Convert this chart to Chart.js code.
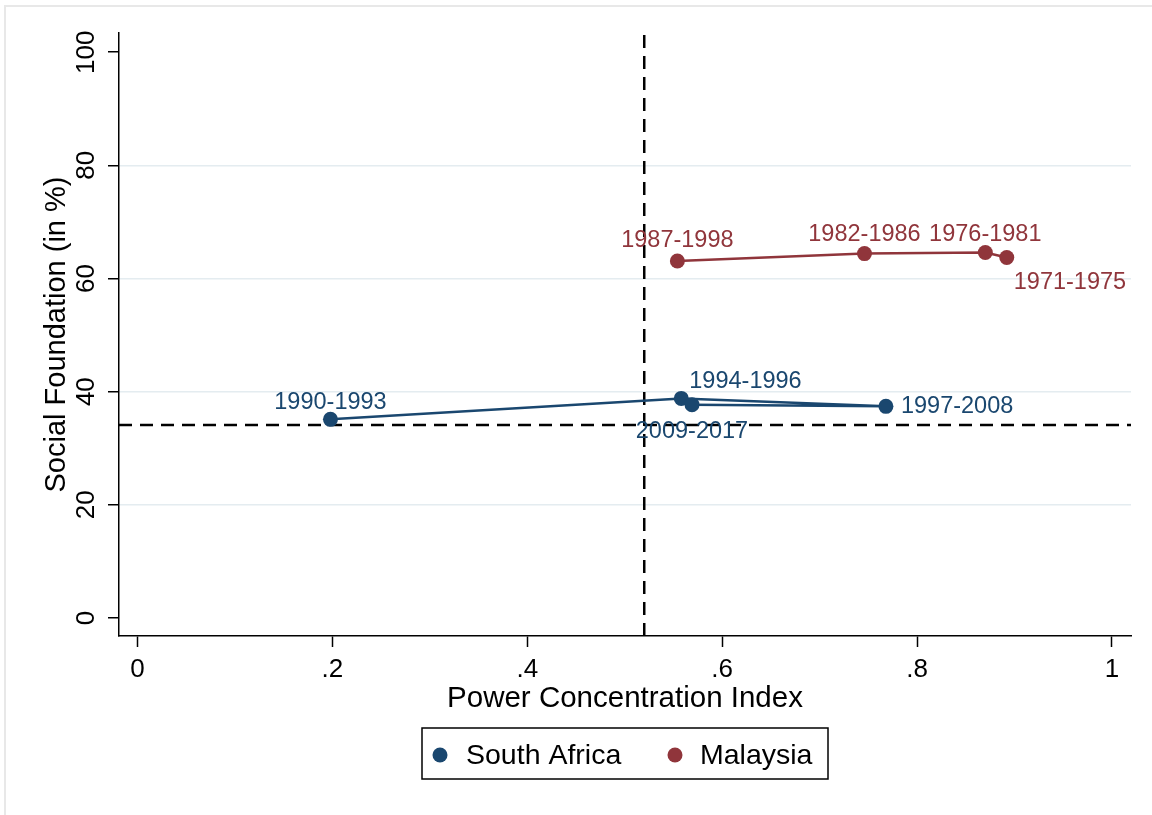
<!DOCTYPE html>
<html>
<head>
<meta charset="utf-8">
<script src="https://cdn.jsdelivr.net/npm/chart.js@4.4.1/dist/chart.umd.min.js"></script>
<style>
  html, body { margin: 0; padding: 0; background: #fff; }
  #wrap { position: relative; width: 1152px; height: 815px; }
</style>
</head>
<body>
<div id="wrap"><canvas id="myChart"></canvas></div>
<script>
// data
const saPeriods = ['1990-1993', '1994-1996', '1997-2008', '2009-2017'];
const saPower = [0.198, 0.558, 0.768, 0.569];
const saSocial = [35.1, 38.8, 37.4, 37.7];

const myPeriods = ['1971-1975', '1976-1981', '1982-1986', '1987-1998'];
const myPower = [0.892, 0.870, 0.746, 0.554];
const mySocial = [63.7, 64.6, 64.4, 63.1];

const refPower = 0.52;   // vertical dashed line
const refSocial = 34.1;  // horizontal dashed line

const xTicks = [0, 0.2, 0.4, 0.6, 0.8, 1];
const xTickLabels = ['0', '.2', '.4', '.6', '.8', '1'];
const yTicks = [0, 20, 40, 60, 80, 100];

const xMin = -0.019, xMax = 1.0195;
const yMin = -3.2, yMax = 103.4;

const navy = '#1a476f';
const maroon = '#90353b';
const fontFamily = "'Liberation Sans', Arial, sans-serif";

// where each point label sits: [dx, dy, align]
const saLabelPos = [[0, -17, 'center'], [8, -17, 'left'], [15, 0, 'left'], [0, 27, 'center']];
const myLabelPos = [[7, 25, 'left'], [0, -18, 'center'], [0, -19, 'center'], [0, -20, 'center']];

const toPoints = (xs, ys) => xs.map((x, i) => ({ x: x, y: ys[i] }));

const frame = {
    id: 'frame',
    beforeDraw(chart) {
        const c = chart.ctx;
        c.save();
        c.fillStyle = '#fff';
        c.fillRect(0, 0, chart.width, chart.height);
        c.strokeStyle = '#e8e8e8';
        c.lineWidth = 2;
        c.strokeRect(5, 6, chart.width + 20, chart.height + 20);
        c.restore();
    }
};

const pointLabels = {
    id: 'pointLabels',
    afterDatasetsDraw(chart) {
        const c = chart.ctx;
        const sets = [[saPeriods, saLabelPos], [myPeriods, myLabelPos]];
        c.save();
        c.font = '23.5px ' + fontFamily;
        c.textBaseline = 'middle';
        sets.forEach(([names, pos], di) => {
            const meta = chart.getDatasetMeta(di);
            c.fillStyle = chart.data.datasets[di].borderColor;
            meta.data.forEach((pt, j) => {
                c.textAlign = pos[j][2];
                c.fillText(names[j], pt.x + pos[j][0], pt.y + pos[j][1]);
            });
        });
        c.restore();
    }
};

const yLabels = {
    id: 'yLabels',
    afterDraw(chart) {
        const c = chart.ctx;
        const ys = chart.scales.y;
        c.save();
        c.font = '26px ' + fontFamily;
        c.fillStyle = '#000';
        c.textAlign = 'center';
        c.textBaseline = 'middle';
        yTicks.forEach(v => {
            c.save();
            c.translate(ys.right - 32, ys.getPixelForValue(v));
            c.rotate(-Math.PI / 2);
            c.fillText(String(v), 0, 0);
            c.restore();
        });
        c.restore();
    }
};

const boxLegend = {
    id: 'boxLegend',
    afterDraw(chart) {
        const c = chart.ctx;
        c.save();
        c.strokeStyle = '#000';
        c.lineWidth = 1.5;
        c.strokeRect(422, 728, 406, 51);
        c.font = '28.5px ' + fontFamily;
        c.textBaseline = 'middle';
        c.textAlign = 'left';
        const items = [[440, 466], [675, 700]];
        items.forEach(([cx, tx], i) => {
            const ds = chart.data.datasets[i];
            c.fillStyle = ds.borderColor;
            c.beginPath();
            c.arc(cx, 755, 7.5, 0, Math.PI * 2);
            c.fill();
            c.fillStyle = '#000';
            c.fillText(ds.label, tx, 756);
        });
        c.restore();
    }
};

const ctx = document.getElementById('myChart');

let newChart = new Chart(ctx, {
    type: 'scatter',
    data: {
        datasets: [{
            label: 'South Africa',
            data: toPoints(saPower, saSocial),
            showLine: true,
            borderColor: navy,
            backgroundColor: navy,
            borderWidth: 2.5,
            pointRadius: 7.5,
            pointBorderWidth: 0,
        }, {
            label: 'Malaysia',
            data: toPoints(myPower, mySocial),
            showLine: true,
            borderColor: maroon,
            backgroundColor: maroon,
            borderWidth: 2.5,
            pointRadius: 7.5,
            pointBorderWidth: 0,
        }, {
            label: 'xline',
            data: [{ x: refPower, y: yMin }, { x: refPower, y: yMax }],
            showLine: true,
            borderColor: '#000',
            borderWidth: 2.5,
            borderDash: [13, 8],
            pointRadius: 0,
        }, {
            label: 'yline',
            data: [{ x: xMin, y: refSocial }, { x: xMax, y: refSocial }],
            showLine: true,
            borderColor: '#000',
            borderWidth: 2.5,
            borderDash: [13, 8],
            pointRadius: 0,
        }]
    },
    options: {
        animation: false,
        responsive: true,
        maintainAspectRatio: false,
        layout: {
            padding: { left: 5, top: 33, right: 21, bottom: 89 }
        },
        plugins: {
            legend: { display: false },
            tooltip: { enabled: false }
        },
        scales: {
            x: {
                type: 'linear',
                min: xMin,
                max: xMax,
                afterBuildTicks: s => { s.ticks = xTicks.map(v => ({ value: v })); },
                afterFit: s => { s.height = 90; },
                ticks: {
                    callback: (v, i) => xTickLabels[i],
                    color: '#000',
                    padding: 7,
                    maxRotation: 0,
                    font: { family: fontFamily, size: 26 }
                },
                grid: {
                    drawOnChartArea: false,
                    tickLength: 11,
                    tickColor: '#000',
                    tickWidth: 1.5
                },
                border: { color: '#000', width: 1.5 },
                title: {
                    display: true,
                    text: 'Power Concentration Index',
                    color: '#000',
                    padding: { top: 0, bottom: 9 },
                    font: { family: fontFamily, size: 29.5 }
                }
            },
            y: {
                type: 'linear',
                min: yMin,
                max: yMax,
                afterBuildTicks: s => { s.ticks = yTicks.map(v => ({ value: v })); },
                afterFit: s => { s.width = 114; },
                ticks: { display: false },
                grid: {
                    color: c => (c.tick && c.tick.value > 0 && c.tick.value < 100) ? '#e4ecf0' : 'rgba(0,0,0,0)',
                    lineWidth: 1.5,
                    tickLength: 11,
                    tickColor: '#000',
                    tickWidth: 1.5
                },
                border: { color: '#000', width: 1.5 },
                title: {
                    display: true,
                    text: 'Social Foundation (in %)',
                    color: '#000',
                    padding: { top: 35, bottom: 0 },
                    font: { family: fontFamily, size: 29 }
                }
            }
        }
    },
    plugins: [frame, pointLabels, yLabels, boxLegend]
});
</script>
</body>
</html>
